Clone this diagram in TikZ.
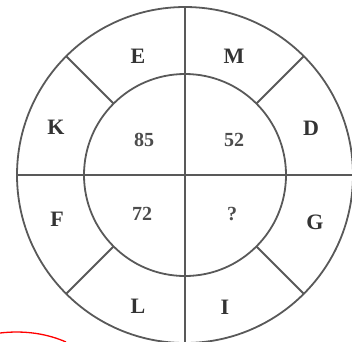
\documentclass[tikz,border=0pt]{standalone}
\usepackage{fontspec}
\setmainfont{Liberation Serif}
\usetikzlibrary{calc}
\begin{document}
\begin{tikzpicture}[x=1pt,y=-1pt,
  ring/.style={draw=black!65,line width=1.8pt},
  lbl/.style={font=\fontsize{22}{22}\selectfont\bfseries,text=black!80,inner sep=0pt},
  num/.style={font=\fontsize{20}{20}\selectfont\bfseries,text=black!70,inner sep=0pt}]
\useasboundingbox (0,0) rectangle (352,341);
\clip (0,0) rectangle (352,341);
\coordinate (c) at (185,175);
\draw[ring] (c) circle[radius=168pt];
\draw[ring] (c) circle[radius=101pt];
\coordinate (top) at (185,7);
\coordinate (bot) at (185,343);
\coordinate (lft) at (17,175);
\coordinate (rgt) at (353,175);
\draw[ring] (top) -- (bot);
\draw[ring] (lft) -- (rgt);
\foreach \a in {45,135,225,315}{
  \draw[ring] ($(c)+(\a:101pt)$) -- ($(c)+(\a:168pt)$);
}
\node[lbl] (E) at (138,56) {E};
\node[lbl] (M) at (234,56) {M};
\node[lbl] (K) at (56,127) {K};
\node[lbl] (D) at (311,128) {D};
\node[lbl] (F) at (57,219) {F};
\node[lbl] (G) at (315,222) {G};
\node[lbl] (L) at (138,306) {L};
\node[lbl] (I) at (225,307) {I};
\node[num] (n1) at (144,140) {85};
\node[num] (n2) at (234,140) {52};
\node[num] (n3) at (142,214) {72};
\node[num] (n4) at (232,214) {?};
\draw[red,line width=1.3pt] (0,333) .. controls (25,330) and (48,334) .. (66,342);
\end{tikzpicture}
\end{document}
